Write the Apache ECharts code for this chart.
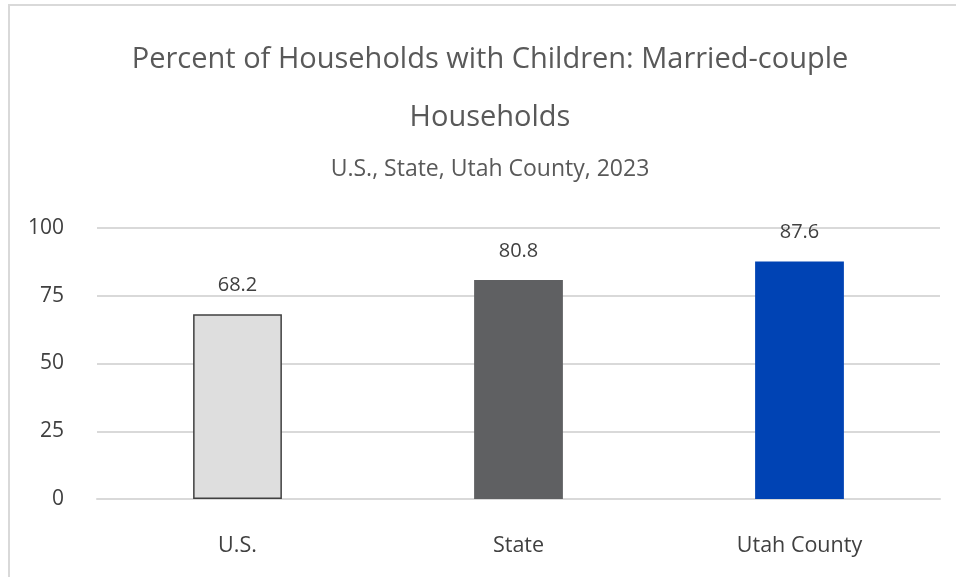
<!DOCTYPE html>
<html>
<head>
<meta charset="utf-8">
<script src="https://cdn.jsdelivr.net/npm/echarts@6/dist/echarts.min.js"></script>
<style>
  html, body { margin: 0; padding: 0; background: #fff; }
  #main { width: 956px; height: 577px; }
</style>
</head>
<body>
<div id="main"></div>
<script>
// data
var categories = ['U.S.', 'State', 'Utah County'];
var values = [68.2, 80.8, 87.6];
var barColors = ['#dedede', '#5f6062', '#0043b4'];
var barBorders = ['#404040', '#5f6062', '#0043b4'];

var myChart = echarts.init(document.getElementById('main'));
var font = '"Open Sans", "Noto Sans", sans-serif';

myChart.setOption({
    animation: false,
    textStyle: { fontFamily: font },
    graphic: [{
        type: 'rect',
        shape: { x: 9, y: 5, width: 1000, height: 1000 },
        style: { fill: null, stroke: '#d9d9d9', lineWidth: 2 },
        silent: true
    }],
    // title centred on x = 490 (chart frame starts at x = 9)
    title: [{
        text: 'Percent of Households with Children: Married-couple\nHouseholds',
        left: 485,
        textAlign: 'center',
        top: 26,
        textStyle: { fontFamily: font, fontSize: 29, fontWeight: 'normal', color: '#595959', lineHeight: 58 }
    }, {
        text: 'U.S., State, Utah County, 2023',
        left: 485,
        textAlign: 'center',
        top: 153,
        textStyle: { fontFamily: font, fontSize: 23, fontWeight: 'normal', color: '#595959' }
    }],
    grid: { left: 97, right: 16, top: 228, bottom: 78, containLabel: false },
    xAxis: {
        type: 'category',
        data: categories,
        axisLine: { lineStyle: { color: '#d9d9d9', width: 2 } },
        axisTick: { show: false },
        axisLabel: { fontFamily: font, fontSize: 21.5, color: '#404040', margin: 36 }
    },
    yAxis: {
        type: 'value',
        min: 0,
        max: 100,
        interval: 25,
        axisLine: { show: false },
        axisTick: { show: false },
        splitLine: { lineStyle: { color: '#d9d9d9', width: 2 } },
        axisLabel: { fontFamily: font, fontSize: 21, color: '#404040', margin: 33 }
    },
    series: [{
        type: 'bar',
        barWidth: '31.6%',
        data: values.map(function (v, i) {
            return {
                value: v,
                itemStyle: { color: barColors[i], borderColor: barBorders[i], borderWidth: i === 0 ? 1.5 : 0 }
            };
        }),
        label: {
            show: true,
            position: 'top',
            distance: 19,
            fontFamily: font,
            fontSize: 20,
            color: '#404040'
        }
    }]
});
</script>
</body>
</html>
